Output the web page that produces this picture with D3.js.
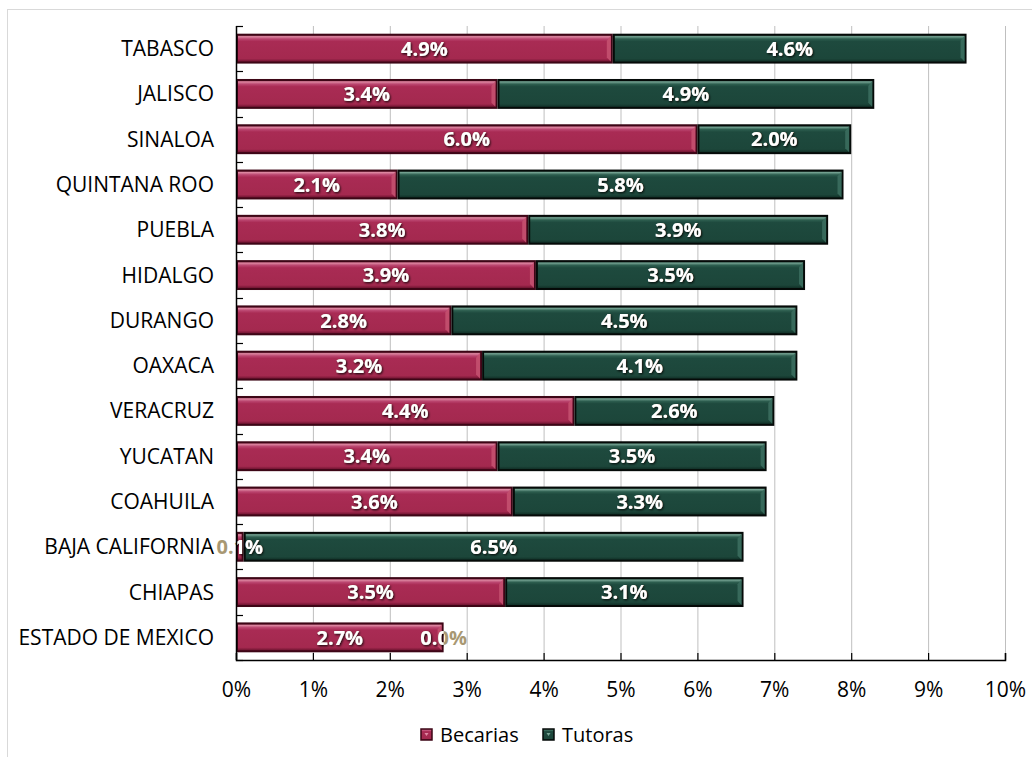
<!DOCTYPE html>
<html>
<head>
<meta charset="utf-8">
<script src="https://cdn.jsdelivr.net/npm/d3@7"></script>
<style>
  html, body { margin: 0; padding: 0; background: #fff; }
  svg { display: block; }
  text { font-family: "Open Sans", "Liberation Sans", sans-serif; }
</style>
</head>
<body>
<svg id="chart" width="1032" height="757"></svg>
<script>
// States, ordered top to bottom
const states = ["TABASCO", "JALISCO", "SINALOA", "QUINTANA ROO", "PUEBLA", "HIDALGO",
  "DURANGO", "OAXACA", "VERACRUZ", "YUCATAN", "COAHUILA", "BAJA CALIFORNIA", "CHIAPAS",
  "ESTADO DE MEXICO"];
// Share (%) of becarias and tutoras per state
const becarias = [4.9, 3.4, 6.0, 2.1, 3.8, 3.9, 2.8, 3.2, 4.4, 3.4, 3.6, 0.1, 3.5, 2.7];
const tutoras  = [4.6, 4.9, 2.0, 5.8, 3.9, 3.5, 4.5, 4.1, 2.6, 3.5, 3.3, 6.5, 3.1, 0.0];
const xTicks = [0, 1, 2, 3, 4, 5, 6, 7, 8, 9, 10];
const seriesNames = ["Becarias", "Tutoras"];

const svg = d3.select("#chart");
const defs = svg.append("defs");

// Outer frame
svg.append("rect")
  .attr("x", 7.5).attr("y", 9.5).attr("width", 1040).attr("height", 760)
  .attr("fill", "#fff").attr("stroke", "#d9d9d9").attr("stroke-width", 1);

const x = d3.scaleLinear().domain([0, 10]).range([236, 1005]);
const y = d3.scaleBand().domain(states).range([26, 660])
  .paddingInner(0.34).paddingOuter(0.17);

// Bevelled fills
const palettes = {
  Becarias: { stops: [["0%", "#6e1431"], ["7%", "#dc86a0"], ["15%", "#bb4670"], ["24%", "#a92b54"], ["86%", "#a4294f"], ["100%", "#5e0d27"]], border: "#3d0616" },
  Tutoras:  { stops: [["0%", "#10291f"], ["7%", "#72a090"], ["15%", "#2d5e4f"], ["24%", "#1e4a3e"], ["86%", "#1c463a"], ["100%", "#0d2820"]], border: "#050a08" }
};
seriesNames.forEach(name => {
  const g = defs.append("linearGradient").attr("id", "grad-" + name)
    .attr("x1", 0).attr("y1", 0).attr("x2", 0).attr("y2", 1);
  palettes[name].stops.forEach(s => g.append("stop").attr("offset", s[0]).attr("stop-color", s[1]));
});

const shadow = defs.append("filter").attr("id", "txtShadow")
  .attr("x", "-20%").attr("y", "-30%").attr("width", "140%").attr("height", "160%");
shadow.append("feDropShadow").attr("dx", 1).attr("dy", 1.2).attr("stdDeviation", 1.1)
  .attr("flood-color", "#000").attr("flood-opacity", 0.85);

// Vertical gridlines
svg.append("g").selectAll("line").data(xTicks.slice(1)).join("line")
  .attr("x1", d => x(d) + 0.5).attr("x2", d => x(d) + 0.5)
  .attr("y1", 26).attr("y2", 660)
  .attr("stroke", "#bfbfbf").attr("stroke-width", 1);

// Segment records
const segs = [];
states.forEach((s, i) => {
  segs.push({ state: s, series: "Becarias", x0: 0, x1: becarias[i], v: becarias[i] });
  segs.push({ state: s, series: "Tutoras", x0: becarias[i], x1: becarias[i] + tutoras[i], v: tutoras[i] });
});

const barG = svg.append("g");
const bh = y.bandwidth();
const drawn = segs.filter(d => d.x1 - d.x0 > 0);

barG.selectAll("rect.bar").data(drawn).join("rect")
  .attr("class", "bar")
  .attr("x", d => x(d.x0) + 1).attr("y", d => y(d.state) + 1)
  .attr("width", d => Math.max(0, x(d.x1) - x(d.x0) - 2)).attr("height", bh - 2)
  .attr("fill", d => `url(#grad-${d.series})`)
  .attr("stroke", d => palettes[d.series].border).attr("stroke-width", 2);

// Right-end bevel highlight
barG.selectAll("path.bevel").data(drawn.filter(d => x(d.x1) - x(d.x0) > 10)).join("path")
  .attr("class", "bevel")
  .attr("d", d => {
    const r = x(d.x1) - 2, t = y(d.state) + 2, b = y(d.state) + bh - 2;
    return `M${r},${t} L${r},${b} L${r - 4},${b - 4} L${r - 4},${t + 5} Z`;
  })
  .attr("fill", d => d.series === "Becarias" ? "#c4506f" : "#3b6d5e")
  .attr("opacity", 0.9);

// Clip for the white part of the value labels
const clip = defs.append("clipPath").attr("id", "barClip");
clip.selectAll("rect").data(drawn).join("rect")
  .attr("x", d => x(d.x0)).attr("y", d => y(d.state))
  .attr("width", d => x(d.x1) - x(d.x0)).attr("height", bh);

// Value labels
const lbl = d => d.v.toFixed(1) + "%";
const lx = d => (x(d.x0) + x(d.x1)) / 2;
const ly = d => y(d.state) + bh / 2;

svg.append("g").selectAll("text").data(segs).join("text")
  .attr("x", lx).attr("y", ly).attr("dy", "0.36em")
  .attr("text-anchor", "middle").attr("font-size", 20).attr("font-weight", 700)
  .attr("fill", "#a89873").text(lbl);

svg.append("g").attr("clip-path", "url(#barClip)")
  .selectAll("text").data(segs).join("text")
  .attr("x", lx).attr("y", ly).attr("dy", "0.36em")
  .attr("text-anchor", "middle").attr("font-size", 20).attr("font-weight", 700)
  .attr("fill", "#fff").attr("filter", "url(#txtShadow)").text(lbl);

// Y axis with inward ticks at band boundaries
const yAxis = svg.append("g");
yAxis.append("line").attr("x1", 236.5).attr("x2", 236.5).attr("y1", 26).attr("y2", 660)
  .attr("stroke", "#000").attr("stroke-width", 1.5);
const bounds = states.map(s => y(s) - y.step() * 0.17);
bounds.push(660);
yAxis.selectAll("line.tk").data(bounds).join("line").attr("class", "tk")
  .attr("x1", 236).attr("x2", 243).attr("y1", d => Math.round(d) + 0.5).attr("y2", d => Math.round(d) + 0.5)
  .attr("stroke", "#000").attr("stroke-width", 1.2);
yAxis.selectAll("text").data(states).join("text")
  .attr("x", 214).attr("y", s => y(s) + bh / 2).attr("dy", "0.36em")
  .attr("text-anchor", "end").attr("font-size", 21).attr("fill", "#000").text(s => s);

// X axis with inward ticks
const xAxisG = svg.append("g").attr("transform", "translate(0,660)")
  .call(d3.axisBottom(x).tickValues(xTicks).tickSize(-7).tickFormat(d => d + "%").tickPadding(22));
xAxisG.select(".domain").attr("stroke", "#000").attr("stroke-width", 1.5);
xAxisG.selectAll(".tick line").attr("stroke", "#000").attr("stroke-width", 1.2);
xAxisG.selectAll(".tick text").attr("font-size", 21).attr("fill", "#000")
  .attr("font-family", "'Open Sans', 'Liberation Sans', sans-serif");

// Legend
const legend = svg.append("g");
const legendItems = [{ name: "Becarias", x: 421 }, { name: "Tutoras", x: 543 }];
legendItems.forEach(it => {
  legend.append("rect").attr("x", it.x).attr("y", 729).attr("width", 11).attr("height", 11)
    .attr("fill", `url(#grad-${it.name})`).attr("stroke", palettes[it.name].border).attr("stroke-width", 1.5);
  legend.append("path")
    .attr("d", `M${it.x + 3.5},${733} L${it.x + 7.5},${733} L${it.x + 5.5},${736} Z`)
    .attr("fill", it.name === "Becarias" ? "#e08aa4" : "#7aa898");
  legend.append("text").attr("x", it.x + 19).attr("y", 735).attr("dy", "0.36em")
    .attr("font-size", 20).attr("fill", "#000").text(it.name);
});
</script>
</body>
</html>
